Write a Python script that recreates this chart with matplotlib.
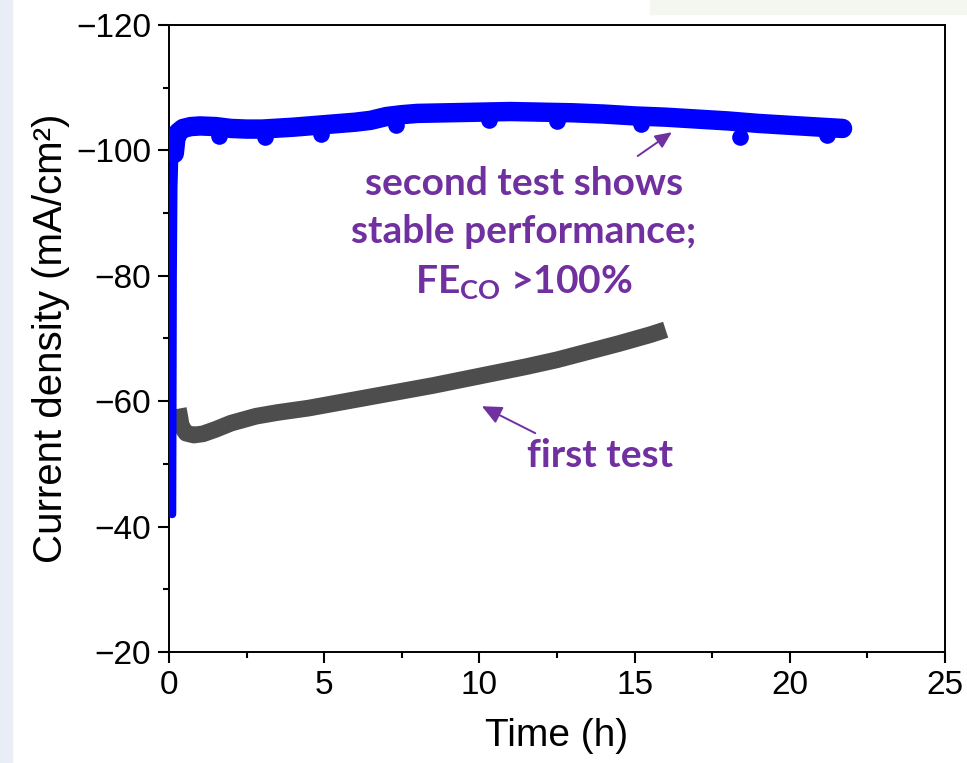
import matplotlib
matplotlib.use("Agg")
import matplotlib.pyplot as plt
from matplotlib.patches import Rectangle

# second test (blue) - time in h, current density in mA/cm2
t_second = [0.10, 0.11, 0.12, 0.14, 0.17, 0.22, 0.30, 0.45, 0.7, 1.0, 1.5, 2.0, 2.5,
            3.0, 4.0, 5.0, 6.0, 6.5, 7.0, 7.5, 8.0, 9.0, 10.0, 11.0, 12.0, 13.0,
            14.0, 15.0, 16.0, 17.0, 18.0, 19.0, 20.0, 21.0, 21.7]
j_second = [-42.0, -60.0, -80.0, -94.0, -99.5, -101.8, -102.9, -103.5, -103.8, -103.9,
            -103.8, -103.5, -103.4, -103.4, -103.7, -104.1, -104.5, -104.8, -105.4,
            -105.7, -105.9, -106.0, -106.1, -106.2, -106.1, -106.0, -105.8, -105.5,
            -105.3, -105.0, -104.7, -104.3, -104.0, -103.7, -103.5]
# isolated low points on the blue trace
t_dips = [1.6, 3.1, 4.9, 7.3, 10.3, 12.5, 15.2, 18.4, 21.2]
j_dips = [-102.3, -102.1, -102.6, -104.1, -104.8, -104.7, -104.2, -102.2, -102.4]

# first test (gray)
t_first = [0.30, 0.33, 0.40, 0.55, 0.8, 1.1, 1.5, 2.0, 2.8, 3.5, 4.5, 5.5, 6.5, 7.5,
           8.5, 9.5, 10.5, 11.5, 12.5, 13.5, 14.5, 15.5, 16.0]
j_first = [-58.8, -58.0, -56.0, -54.9, -54.6, -54.8, -55.5, -56.5, -57.6, -58.2, -58.9,
           -59.8, -60.7, -61.6, -62.5, -63.5, -64.5, -65.5, -66.6, -67.9, -69.2, -70.6,
           -71.4]

purple = "#7030A0"

fig = plt.figure(figsize=(9.67, 7.63), dpi=100)
# faint slide background around the figure
fig.patches.append(Rectangle((0, 0), 12 / 967, 1, transform=fig.transFigure,
                             color="#e9edf5", zorder=0))
fig.patches.append(Rectangle((650 / 967, 1 - 14 / 763), 317 / 967, 14 / 763,
                             transform=fig.transFigure, color="#f3f7f0", zorder=0))

ax = fig.add_axes([169 / 967, 111 / 763, 776 / 967, 627 / 763])

ax.plot(t_first, j_first, color="#4d4d4d", lw=12, solid_capstyle="butt",
        solid_joinstyle="round", zorder=2)
ax.plot(t_second[:6], j_second[:6], color="#0000ff", lw=6, solid_capstyle="round", zorder=3)
ax.plot(t_second[4:], j_second[4:], color="#0000ff", lw=14, solid_capstyle="round",
        solid_joinstyle="round", zorder=3)
ax.plot(t_dips, j_dips, "o", color="#0000ff", ms=12, mec="none", zorder=3)

ax.set_xlim(0, 25)
ax.set_ylim(-20, -120)
ax.set_xticks(range(0, 26, 5))
ax.set_xticks([2.5, 7.5, 12.5, 17.5, 22.5], minor=True)
ax.set_yticks(range(-120, -19, 20))
ax.set_yticks([-110, -90, -70, -50, -30], minor=True)
ax.set_yticklabels([f"\u2212{abs(v)}" for v in range(-120, -19, 20)])

for s in ax.spines.values():
    s.set_linewidth(1.4)
ax.tick_params(which="major", direction="out", length=8, width=1.5,
               labelsize=24, pad=5, top=False, right=False)
ax.tick_params(which="minor", direction="out", length=4.5, width=1.5,
               top=False, right=False)
for lab in ax.get_xticklabels() + ax.get_yticklabels():
    lab.set_family("Liberation Sans")

ax.set_xlabel("Time (h)", family="Liberation Sans", fontsize=28, labelpad=12)
ax.set_ylabel("Current density (mA/cm\u00b2)", family="Liberation Sans",
              fontsize=29, labelpad=4)

txt = dict(color=purple, family="Lato", weight="bold", fontsize=28,
           ha="center", va="center")
ax.text(11.44, -94.8, "second test shows", **txt)
ax.text(11.44, -87.0, "stable performance;", **txt)
ax.text(11.44, -78.9, "FE$_{\\mathregular{CO}}$ >100%", **txt)
ax.text(13.9, -51.4, "first test", **txt)

ax.annotate("", xy=(16.2, -102.9), xytext=(15.1, -99.1),
            arrowprops=dict(arrowstyle="-|>,head_length=1.0,head_width=0.45",
                            color=purple, lw=1.4, shrinkA=0, shrinkB=0))
ax.annotate("", xy=(10.08, -59.2), xytext=(11.8, -54.9),
            arrowprops=dict(arrowstyle="-|>,head_length=1.2,head_width=0.55",
                            color=purple, lw=1.4, shrinkA=0, shrinkB=0))

fig.savefig("out.png", dpi=100)
